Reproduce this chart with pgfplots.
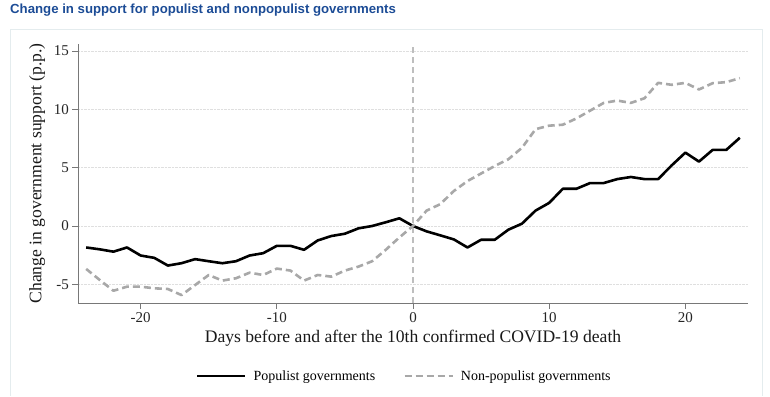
\documentclass[border=0pt]{standalone}
\usepackage{fontspec}
\setmainfont{Liberation Serif}
\newfontfamily\titlefont{Liberation Sans}
\usepackage{pgfplots}
\pgfplotsset{compat=1.18}
\definecolor{titleblue}{RGB}{28,76,150}
\definecolor{npgrey}{RGB}{168,168,168}
\definecolor{axgrey}{RGB}{120,120,120}
\begin{document}
\begin{tikzpicture}[x=1pt,y=1pt]
\useasboundingbox (0,0) rectangle (770,396);
\draw[color={rgb,255:red,228;green,236;blue,238}, line width=0.8pt] (10,0.5) -- (10,367) -- (762,367) -- (762,0.5);
\node[anchor=west, inner sep=0pt, font=\titlefont\bfseries\fontsize{13.2}{15}\selectfont, text=titleblue] at (10,386) {Change in support for populist and nonpopulist governments};
\begin{axis}[
  at={(78pt,93pt)}, anchor=south west, scale only axis,
  width=670pt, height=259pt,
  xmin=-24.6, xmax=24.6, ymin=-6.6, ymax=15.6,
  axis x line*=bottom, axis y line*=left,
  axis line style={-, draw=axgrey, line width=0.9pt},
  tick align=outside, major tick length=5.5pt,
  tick style={draw=axgrey, line width=0.8pt},
  xtick={-20,-10,0,10,20}, ytick={-5,0,5,10,15},
  /pgf/number format/assume math mode=true,
  ticklabel style={font=\fontsize{15}{17}\selectfont, text=black!85},
  ymajorgrids, grid style={densely dotted, gray!25, line width=0.6pt},
  xlabel={Days before and after the 10th confirmed COVID-19 death},
  ylabel={Change in government support (p.p.)},
  label style={font=\fontsize{17.6}{20}\selectfont, text=black!90},
  xlabel style={yshift=-1pt},
  ylabel style={yshift=2pt},
  legend columns=2,
  legend style={at={(axis description cs:0.487,-0.282)}, anchor=center, draw=none, fill=none,
     font=\fontsize{14}{16}\selectfont, /tikz/every even column/.append style={column sep=26pt}},
  legend image code/.code={\draw[#1] (0pt,0pt) -- (48pt,0pt); \path (53pt,0pt);},
]
\addplot[forget plot, color={rgb,255:red,190;green,190;blue,190}, line width=1.2pt, dash pattern=on 6pt off 4pt] coordinates {(0,-6.6) (0,15.6)};
\addplot[black, line width=2.6pt, line join=round] coordinates {
(-24,-1.84) (-23,-2.0) (-22,-2.2) (-21,-1.84) (-20,-2.53) (-19,-2.73) (-18,-3.39) (-17,-3.19)
(-16,-2.84) (-15,-3.02) (-14,-3.19) (-13,-3.02) (-12,-2.53) (-11,-2.33) (-10,-1.70) (-9,-1.70)
(-8,-2.04) (-7,-1.24) (-6,-0.86) (-5,-0.66) (-4,-0.20) (-3,0.0) (-2,0.32) (-1,0.66) (0,0.0)
(1,-0.46) (2,-0.80) (3,-1.15) (4,-1.84) (5,-1.18) (6,-1.18) (7,-0.32) (8,0.2) (9,1.32) (10,1.98)
(11,3.19) (12,3.19) (13,3.68) (14,3.68) (15,4.02) (16,4.2) (17,4.02) (18,4.02) (19,5.2) (20,6.29)
(21,5.52) (22,6.52) (23,6.52) (24,7.56)};
\addlegendentry{Populist governments}
\addplot[npgrey, line width=2.6pt, dash pattern=on 7pt off 4pt, line join=round] coordinates {
(-24,-3.68) (-23,-4.63) (-22,-5.55) (-21,-5.2) (-20,-5.2) (-19,-5.34) (-18,-5.4) (-17,-5.92)
(-16,-5.06) (-15,-4.2) (-14,-4.68) (-13,-4.48) (-12,-4.0) (-11,-4.2) (-10,-3.65) (-9,-3.82)
(-8,-4.68) (-7,-4.2) (-6,-4.34) (-5,-3.82) (-4,-3.48) (-3,-3.02) (-2,-2.04) (-1,-0.98) (0,0.0)
(1,1.32) (2,1.87) (3,3.0) (4,3.85) (5,4.5) (6,5.14) (7,5.72) (8,6.7) (9,8.3) (10,8.6)
(11,8.68) (12,9.22) (13,9.88) (14,10.55) (15,10.75) (16,10.55) (17,10.95) (18,12.27) (19,12.1)
(20,12.27) (21,11.7) (22,12.24) (23,12.33) (24,12.67)};
\addlegendentry{Non-populist governments}
\end{axis}
\end{tikzpicture}
\end{document}
